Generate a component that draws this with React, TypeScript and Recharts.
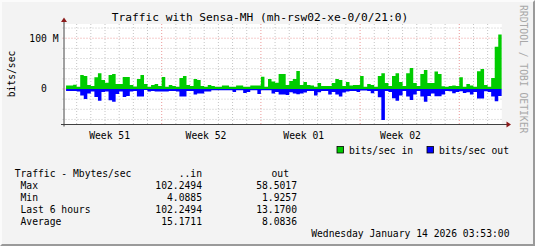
import React from 'react';
import { AreaChart, Area, XAxis, YAxis, CartesianGrid } from 'recharts';

// values per 6-hour slot, in M (graph units); slot 0 is empty
const inTraffic = [
  null,
  6.6, 6.6, 8.5, 4.6, 27.6, 25.7, 8, 6, 23, 31, 17.8, 12.5, 27.6, 29.6, 10, 10, 23.7, 23.7, 8, 5,
  19.7, 27.6, 10, 4.6, 8, 10, 6, 23.7, 4.6, 8, 6, 4.6, 21.7, 25.7, 8, 6, 19.7, 17.8, 6, 4.6, 8,
  6, 4.6, 4.6, 6.6, 6.6, 4.6, 4.6, 6.6, 6.6, 4.6, 4.6, 6.6, 6.6, 6.6, 24, 4.6, 19.7, 14.5, 12.5, 29.6, 29.6,
  8, 15.8, 19.7, 35.5, 8, 13.8, 8, 6.6, 4.6, 11.8, 6, 6, 6, 11.8, 19.7, 17.8, 6, 13.8, 6.6, 8, 8,
  25.7, 4.6, 10, 8, 4.6, 25.7, 31, 11.8, 6, 25.7, 31, 13.8, 6, 31, 41.4, 11.8, 6, 29.6, 37.5, 11.8, 11.8,
  34.2, 29.6, 5.3, 4.6, 6, 7, 6, 23, 4.6, 10, 6.6, 4.6, 35, 39.5, 8, 4.6, 21.7, 83, 107.2,
];
const outTraffic = [
  null,
  4, 4, 4, 5, 13, 20, 9, 5, 16, 23, 6, 5, 22, 25, 10, 5, 16, 14, 5, 4,
  15, 15, 2, 5, 4, 5, 5, 5, 5, 4, 4, 5, 15, 15, 4, 4, 11, 9, 9, 5, 5,
  2.6, 2.6, 2.6, 2.6, 2.6, 2.6, 6, 2.6, 2.6, 8, 6, 2.6, 2.6, 10, 2.6, 2.6, 2.6, 9, 6, 11, 11,
  12, 6.6, 9, 10.5, 9, 7, 4, 4, 13, 6.6, 4, 4, 11, 6, 11, 15, 7, 5, 4, 4, 6,
  3, 3, 4, 8.5, 4, 16.4, 61.3, 4, 6, 18.4, 23, 13, 4, 15, 21.7, 11, 4, 15, 25, 13.8, 9,
  14.5, 14.5, 11, 4, 4.6, 8.5, 6, 4.6, 8, 6.6, 11, 6, 19, 19, 4.6, 6, 15, 24, 13.8,
];

// label positions in slot units (centre of each week label)
const weekTicks = [13.3, 40.5, 68.1, 95.4];
const weekLabels = ['Week 51', 'Week 52', 'Week 01', 'Week 02'];
const weekStarts = [28, 56, 84, 112];

const statsRows = [
  { label: 'Max', inV: '102.2494', outV: '58.5017' },
  { label: 'Min', inV: '4.0885', outV: '1.9257' },
  { label: 'Last 6 hours', inV: '102.2494', outV: '13.1700' },
  { label: 'Average', inV: '15.1711', outV: '8.0836' },
];

const rows = inTraffic.map((v, i) => ({
  slot: i,
  in: v,
  out: outTraffic[i] == null ? null : -outTraffic[i],
}));
// closing point so the last 6h step gets its full width
const data = [...rows, { ...rows[rows.length - 1], slot: rows.length }];
const SLOTS = rows.length;
const Y_DOMAIN = [-70, 128];

const dayStarts = rows.filter(d => d.slot > 0 && d.slot % 4 === 0 && !weekStarts.includes(d.slot)).map(d => d.slot);
const minorY = [-60, -40, -20, 20, 40, 60, 80, 120];
const majorY = [0, 100];

const FONT = '"DejaVu Sans Mono", monospace';
const FS = 9.7;
const PLOT_LEFT = 62.5;
const PLOT_TOP = 24;
const PLOT_RIGHT = 501.8;
const PLOT_BOTTOM = 124.5;

// grid positions through the axis scales (fallback: plot offset)
const vGen = values => ({ xAxis, offset }) => values.map(v =>
  xAxis && typeof xAxis.scale === 'function' ? xAxis.scale(v) : offset.left + (v / SLOTS) * offset.width);
const hGen = values => ({ yAxis, offset }) => values.map(v =>
  yAxis && typeof yAxis.scale === 'function' ? yAxis.scale(v)
    : offset.top + ((Y_DOMAIN[1] - v) / (Y_DOMAIN[1] - Y_DOMAIN[0])) * offset.height);

const YTick = ({ x, y, payload }) => (
  <text x={x} y={y} dy="0.355em" textAnchor="end" fontFamily={FONT} fontSize={FS} fill="#000"
    style={{ whiteSpace: 'pre' }} xmlSpace="preserve">
    {payload.value === 0 ? '0  ' : `${payload.value} M`}
  </text>
);

export default function App() {
  return <div style={{ position: 'fixed', left: 0, top: 0, width: 535, height: 246, background: '#f3f3f3', overflow: 'hidden' }}>
      <div style={{ position: 'absolute', left: 0, top: 0 }}>
        <AreaChart width={535} height={246} data={data}
          margin={{ top: PLOT_TOP, left: 0, right: 535 - PLOT_RIGHT, bottom: 246 - PLOT_BOTTOM - 20 }}>
          <CartesianGrid fill="#ffffff" stroke="#c4c4c4" strokeDasharray="1 2"
            horizontalCoordinatesGenerator={hGen(minorY)} verticalCoordinatesGenerator={vGen(dayStarts)} />
          <CartesianGrid stroke="#ec9a9a" strokeDasharray="1 2"
            horizontalCoordinatesGenerator={hGen(majorY)} verticalCoordinatesGenerator={vGen(weekStarts)} />
          <XAxis dataKey="slot" type="number" domain={[0, SLOTS]} allowDataOverflow ticks={weekTicks} interval={0} height={20}
            tickFormatter={v => weekLabels[weekTicks.indexOf(v)]} axisLine={false} tickLine={false}
            tickSize={6} tickMargin={1.5}
            tick={{ fontFamily: FONT, fontSize: FS, fill: '#000' }} />
          <YAxis type="number" domain={Y_DOMAIN} ticks={majorY} width={PLOT_LEFT} allowDataOverflow
            axisLine={false} tickLine={false} tickSize={0} tickMargin={4} tick={<YTick />} />
          <Area type="stepAfter" dataKey="in" baseValue={0} stroke="none" fill="#00cc00" fillOpacity={1}
            isAnimationActive={false} dot={false} activeDot={false} />
          <Area type="stepAfter" dataKey="out" baseValue={0} stroke="none" fill="#0000ff" fillOpacity={1}
            isAnimationActive={false} dot={false} activeDot={false} />
        </AreaChart>
      </div>
      <svg width={535} height={246} style={{ position: 'absolute', left: 0, top: 0, pointerEvents: 'none' }}
        fontFamily={FONT} fontSize={FS}>
        <line x1={64} y1={PLOT_BOTTOM + 2} x2={64} y2={21} stroke="#404040" strokeWidth={1} />
        <line x1={61} y1={PLOT_BOTTOM} x2={507} y2={PLOT_BOTTOM} stroke="#404040" strokeWidth={1} />
        <polygon points="64,17.5 61,22 67,22" fill="#8b1a1a" />
        <polygon points="511,124.5 506.5,121.5 506.5,127.5" fill="#8b1a1a" />
        <text x={260} y={21} textAnchor="middle" fontSize={11.2} fill="#000">Traffic with Sensa-MH (mh-rsw02-xe-0/0/21:0)</text>
        <text transform="translate(14.5,74) rotate(-90)" textAnchor="middle" fill="#000">bits/sec</text>
        <text transform="translate(520,5) rotate(90)" fill="#a8a8a8">RRDTOOL / TOBI OETIKER</text>
        <rect x={337} y={146.5} width={6.5} height={6.5} fill="#00cc00" stroke="#000" strokeWidth={0.8} />
        <text x={349} y={153.5} fill="#000">bits/sec in</text>
        <rect x={427} y={146.5} width={6.5} height={6.5} fill="#0000ff" stroke="#000" strokeWidth={0.8} />
        <text x={439} y={153.5} fill="#000">bits/sec out</text>
        <text x={14.7} y={177} fill="#000">Traffic - Mbytes/sec</text>
        <text x={202} y={177} textAnchor="end" fill="#000">..in</text>
        <text x={289} y={177} textAnchor="end" fill="#000">out</text>
        {statsRows.map((r, i) => <g key={r.label}>
            <text x={20.5} y={189 + i * 12} fill="#000">{r.label}</text>
            <text x={202} y={189 + i * 12} textAnchor="end" fill="#000">{r.inV}</text>
            <text x={297} y={189 + i * 12} textAnchor="end" fill="#000">{r.outV}</text>
          </g>)}
        <text x={509.5} y={237} textAnchor="end" fill="#000">Wednesday January 14 2026 03:53:00</text>
      </svg>
      <div style={{ position: 'absolute', left: 0, top: 0, width: 535, height: 246, boxSizing: 'border-box',
        borderTop: '2px solid #fbfbfb', borderLeft: '2px solid #fbfbfb', borderRight: '2px solid #9a9a9a', borderBottom: '2px solid #9a9a9a' }} />
    </div>;
}
